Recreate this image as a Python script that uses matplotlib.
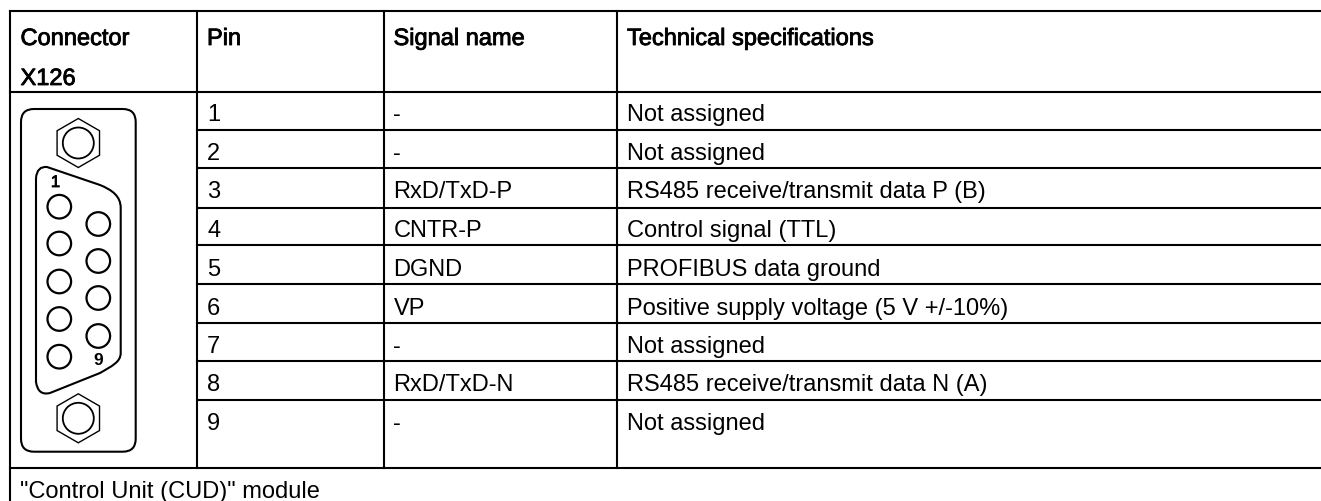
import numpy as np
import matplotlib
matplotlib.use('Agg')
import matplotlib.pyplot as plt
import matplotlib.patheffects as pe
from matplotlib.patches import Circle, FancyBboxPatch, PathPatch, RegularPolygon
from matplotlib.path import Path

plt.rcParams['font.family'] = ['Liberation Sans', 'DejaVu Sans']

# table content
headers = ['Connector', 'Pin', 'Signal name', 'Technical specifications']
header_second = 'X126'
pins = ['1', '2', '3', '4', '5', '6', '7', '8', '9']
signals = ['-', '-', 'RxD/TxD-P', 'CNTR-P', 'DGND', 'VP', '-', 'RxD/TxD-N', '-']
specs = ['Not assigned', 'Not assigned', 'RS485 receive/transmit data P (B)',
         'Control signal (TTL)', 'PROFIBUS data ground',
         'Positive supply voltage (5 V +/-10%)', 'Not assigned',
         'RS485 receive/transmit data N (A)', 'Not assigned']
footer = '"Control Unit (CUD)" module'

# grid, in image pixels
col_x = [10, 197, 384, 617]
row_lines = [91.5, 129.7, 168.3, 207.7, 245.3, 284.3, 322.7, 361, 400, 468.3]
baselines = [121, 159.7, 198.3, 237.3, 276, 315, 352.7, 391, 430]
text_x = [20.5, 207, 393.5, 627]

# connector sketch
socket_left = [(59.3, 206.7), (59.3, 243.5), (59.3, 281.5), (59.3, 319), (59.3, 356.7)]
socket_right = [(98.3, 224), (98.3, 261), (98.3, 298), (98.3, 336)]
screws = [(78.3, 143), (78.3, 418.3)]

fig = plt.figure(figsize=(13.21, 5.01), dpi=100)
ax = fig.add_axes([0, 0, 1, 1])
ax.set_xlim(0, 1321)
ax.set_ylim(501, 0)
ax.axis('off')

lw = 1.5
# table lines
ax.plot([10, 1321], [11, 11], 'k', lw=lw)
ax.plot([10, 10], [11, 501], 'k', lw=lw)
ax.plot([10, 1321], [row_lines[0], row_lines[0]], 'k', lw=lw)
ax.plot([10, 1321], [row_lines[-1], row_lines[-1]], 'k', lw=lw)
for y in row_lines[1:-1]:
    ax.plot([col_x[1], 1321], [y, y], 'k', lw=lw)
for x in col_x[1:]:
    ax.plot([x, x], [11, row_lines[-1]], 'k', lw=lw)

fs = 17
bold = [pe.withStroke(linewidth=0.6, foreground='k')]
for x, h in zip(text_x, headers):
    ax.text(x, 45, h, fontsize=fs, color='k', va='baseline', path_effects=bold)
ax.text(text_x[0], 85, header_second, fontsize=fs, color='k', va='baseline', path_effects=bold)

for y, p, s, t in zip(baselines, pins, signals, specs):
    ax.text(text_x[1], y, p, fontsize=fs, color='k', va='baseline')
    ax.text(text_x[2], y, s, fontsize=fs, color='k', va='baseline')
    ax.text(text_x[3], y, t, fontsize=fs, color='k', va='baseline')
ax.text(text_x[0], 498, footer, fontsize=fs, color='k', va='baseline')

# connector outline
ax.add_patch(FancyBboxPatch((21, 109), 114.7, 342.7, boxstyle='round,pad=0,rounding_size=13',
                            fc='none', ec='k', lw=1.5))

# D shaped shell
verts = [(36, 178), (37, 166), (47, 167), (100, 185), (112, 190), (120.7, 196),
         (120.7, 208), (120.7, 353), (120.7, 362), (112, 366), (100, 373),
         (50, 393), (38, 396), (36, 382), (36, 178)]
codes = [Path.MOVETO, Path.CURVE3, Path.CURVE3, Path.LINETO, Path.CURVE4, Path.CURVE4,
         Path.CURVE4, Path.LINETO, Path.CURVE4, Path.CURVE4, Path.CURVE4, Path.LINETO,
         Path.CURVE3, Path.CURVE3, Path.LINETO]
ax.add_patch(PathPatch(Path(verts, codes), fc='none', ec='k', lw=1.5))

for c in socket_left + socket_right:
    ax.add_patch(Circle(c, 11.8, fc='none', ec='k', lw=1.6))

for c in screws:
    ax.add_patch(RegularPolygon(c, 6, radius=24.5, orientation=0, fc='none', ec='k', lw=1.0))
    ax.add_patch(Circle(c, 15.5, fc='none', ec='k', lw=1.3))

ax.text(55.5, 187, '1', fontsize=12, color='k', ha='center', va='baseline', path_effects=bold)
ax.text(98.5, 365, '9', fontsize=12.5, color='k', ha='center', va='baseline', fontweight='bold')

fig.savefig('out.png', dpi=100, facecolor='white')
